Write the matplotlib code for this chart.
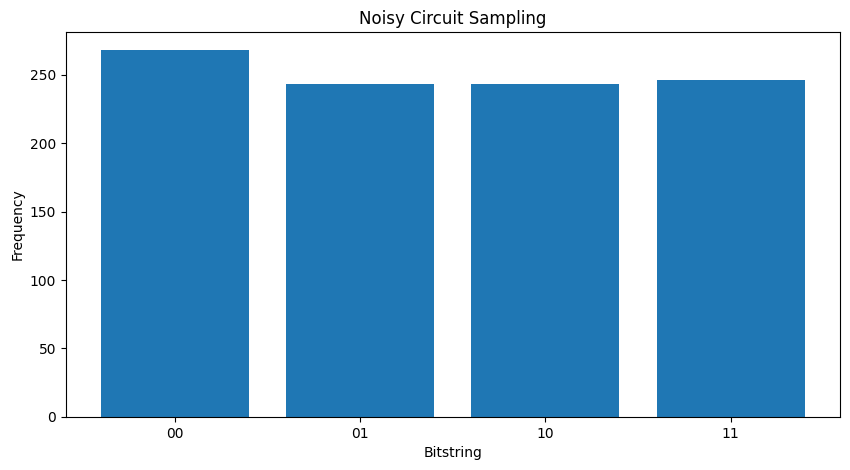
import matplotlib.pyplot as plt

bitstrings = ["00", "01", "10", "11"]
counts = [268, 243, 243, 246]

fig, ax = plt.subplots(figsize=(8.5, 4.7), dpi=100)
fig.subplots_adjust(left=0.0776, right=0.988, top=0.932, bottom=0.113)

ax.bar(bitstrings, counts, color="#1f77b4")
ax.set_xlabel("Bitstring")
ax.set_ylabel("Frequency")
ax.set_title("Noisy Circuit Sampling")

fig.savefig("out.png", dpi=100)
